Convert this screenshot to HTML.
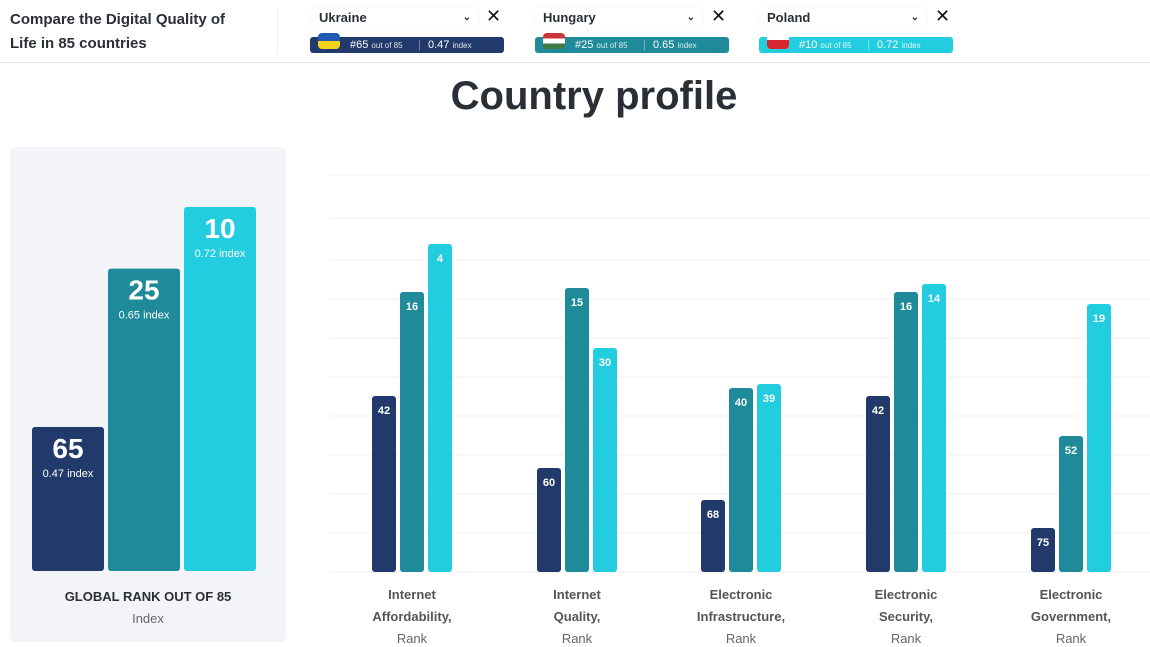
<!DOCTYPE html>
<html><head><meta charset="utf-8"><style>
body{margin:0;width:1150px;height:647px;background:#fff;font-family:"Liberation Sans",sans-serif;position:relative;overflow:hidden;color:#2a2f36}
.abs{position:absolute}
.sel{position:absolute;top:7px;height:22px;width:168px;border-radius:6px;background:#fff;box-shadow:0 0 2px rgba(0,0,0,.08);font-size:13px;font-weight:bold;line-height:22px;padding-left:8px;box-sizing:border-box}
.sel .chev{position:absolute;right:8px;top:0;font-size:10px;color:#333}
.x{position:absolute;top:6px;font-size:18px;color:#111}
.pill{position:absolute;top:37px;height:16px;width:194px;border-radius:3px;color:#fff;font-size:11px;line-height:16px}
.pill small{font-size:8px;opacity:.85}
.flag{position:absolute;left:8px;top:-4px;width:22px;height:16px;border-radius:4px;overflow:hidden}
</style></head><body>
<div class="abs" style="left:10px;top:8px;font-size:15px;font-weight:bold;line-height:24px;color:#2a2f36">Compare the Digital Quality of<br>Life in 85 countries</div>
<div class="abs" style="left:277px;top:8px;width:1px;height:46px;background:#eee"></div>
<div class="abs" style="left:0;top:62px;width:1150px;height:1px;background:#e6e6e6"></div>

<div class="sel" style="left:311px">Ukraine<span class="chev">⌄</span></div>
<div class="x" style="left:486px">✕</div>
<div class="pill" style="left:310px;background:#213a6b"><div class="flag" style="background:linear-gradient(#1f5bb5 50%,#f7d21c 50%)"></div><span style="position:absolute;left:40px">#65 <small>out of 85</small></span><span style="position:absolute;left:108px;opacity:.4">|</span><span style="position:absolute;left:118px">0.47 <small>index</small></span></div>

<div class="sel" style="left:535px">Hungary<span class="chev">⌄</span></div>
<div class="x" style="left:711px">✕</div>
<div class="pill" style="left:535px;background:#1e8a9a"><div class="flag" style="background:linear-gradient(#c8343a 33%,#fff 33%,#fff 66%,#3f7a45 66%)"></div><span style="position:absolute;left:40px">#25 <small>out of 85</small></span><span style="position:absolute;left:108px;opacity:.4">|</span><span style="position:absolute;left:118px">0.65 <small>index</small></span></div>

<div class="sel" style="left:759px">Poland<span class="chev">⌄</span></div>
<div class="x" style="left:935px">✕</div>
<div class="pill" style="left:759px;background:#22cde0"><div class="flag" style="background:linear-gradient(#fff 45%,#d8262f 45%)"></div><span style="position:absolute;left:40px">#10 <small>out of 85</small></span><span style="position:absolute;left:108px;opacity:.4">|</span><span style="position:absolute;left:118px">0.72 <small>index</small></span></div>

<div class="abs" style="left:0;width:1188px;text-align:center;top:74px;font-size:40px;font-weight:bold;color:#2a2f36">Country profile</div>

<div class="abs" style="left:10px;top:147px;width:276px;height:495px;background:#f2f4f7;border-radius:6px"></div>
<div class="abs" style="left:10px;width:276px;top:589px;text-align:center;font-size:13px;font-weight:bold;color:#2a2f36">GLOBAL RANK OUT OF 85</div>
<div class="abs" style="left:10px;width:276px;top:611px;text-align:center;font-size:13px;color:#666">Index</div>

<svg class="abs" style="left:0;top:0" width="1150" height="647" id="chart"></svg>
<script>
const countries=["Ukraine","Hungary","Poland"];
const globalRanks=[65,25,10];
const globalIndex=[0.47,0.65,0.72];
const categories=[["Internet","Affordability,"],["Internet","Quality,"],["Electronic","Infrastructure,"],["Electronic","Security,"],["Electronic","Government,"]];
const ukraineRanks=[42,60,68,42,75];
const hungaryRanks=[16,15,40,16,52];
const polandRanks=[4,30,39,14,19];
const colors=["#213a6b","#1e8a9a","#22cde0"];
const svg=document.getElementById('chart');
const NS="http://www.w3.org/2000/svg";
function mk(t,a){const e=document.createElementNS(NS,t);for(const k in a)e.setAttribute(k,a[k]);svg.appendChild(e);return e;}
const base=572;
const yRank=r=>base-(86-r)*4;
const yIdx=v=>571-(v-0.3064)*880;
// gridlines
[175,218,260,299,338,377,416,455,494,533,572].forEach(y=>{const l=mk('line',{x1:330,x2:1150,y1:y,y2:y,stroke:'#eef0f2','stroke-width':1});

});
// left panel bars
globalRanks.forEach((r,i)=>{const x=32+i*76,top=yIdx(globalIndex[i]);
const b=mk('rect',{x:x,y:top,width:72,height:571-top,rx:3,fill:colors[i]});


const t=mk('text',{x:x+36,y:top+31,'text-anchor':'middle','font-size':28,'font-weight':'bold',fill:'#fff'});t.textContent=r;


const s=mk('text',{x:x+36,y:top+50,'text-anchor':'middle','font-size':11,fill:'#fff'});s.textContent=globalIndex[i]+' index';

});
// grouped bars
const series=[ukraineRanks,hungaryRanks,polandRanks];
const centers=[412,577,741,906,1071];
categories.forEach((c,ci)=>{series.forEach((sr,si)=>{const x=centers[ci]-40+si*28,top=yRank(sr[ci]);
const b=mk('rect',{x:x,y:top,width:24,height:base-top,rx:3,fill:colors[si]});


const t=mk('text',{x:x+12,y:top+18,'text-anchor':'middle','font-size':11,'font-weight':'bold',fill:'#fff'});t.textContent=sr[ci];

});
[c[0],c[1],'Rank'].forEach((ln,li)=>{const t=mk('text',{x:centers[ci],y:599+li*22,'text-anchor':'middle','font-size':13,'font-weight':li<2?'bold':'normal',fill:li<2?'#555':'#666'});t.textContent=ln;

});});
</script>
</body></html>
